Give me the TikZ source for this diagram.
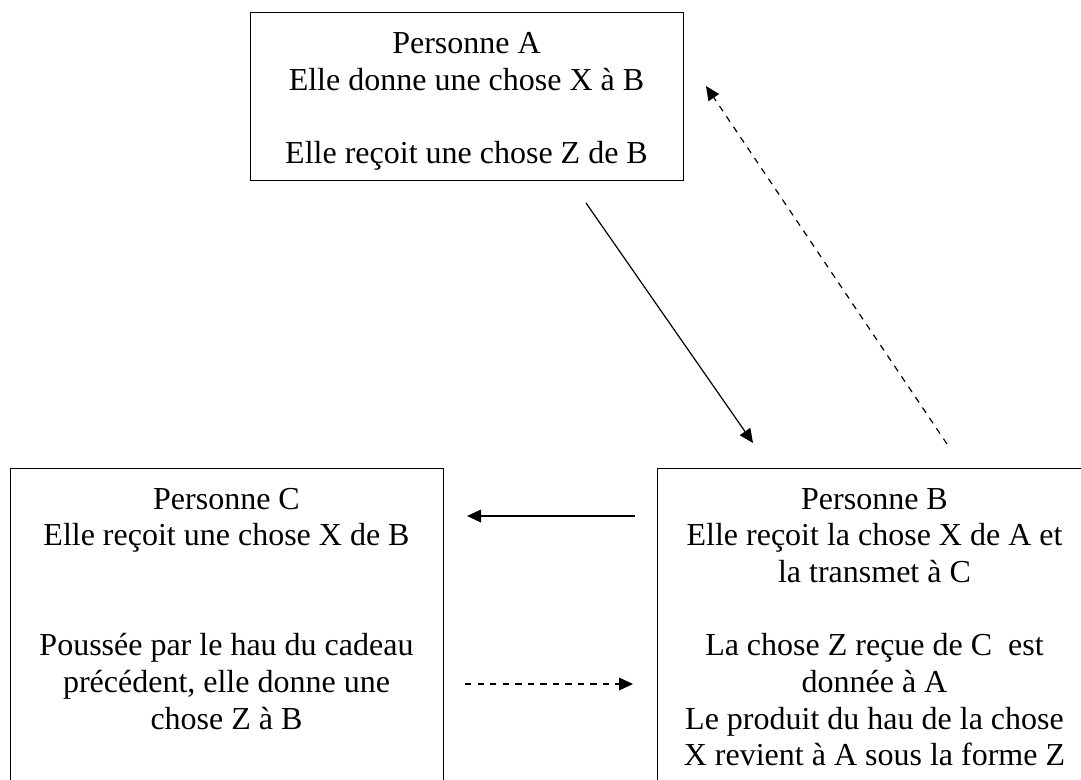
\documentclass[tikz,border=0pt]{standalone}
\usepackage{fontspec}
\setmainfont{Liberation Serif}
\usetikzlibrary{arrows.meta}
\begin{document}
\begin{tikzpicture}[x=0.75pt,y=-0.75pt,
  box/.style={draw, line width=1pt, rectangle, inner sep=0pt, anchor=north west},
  txt/.style={anchor=north, inner sep=0pt, align=center, font={\fontsize{24}{27.5}\selectfont}},
  conn/.style={line width=0.9pt, -{Triangle[length=10.5pt,width=9.5pt]}},
  dconn/.style={conn, dash pattern=on 4.8pt off 4.6pt}]
\useasboundingbox (0,0) rectangle (1081,779);
\clip (0,0) rectangle (1081,779);
% boxes
\node[box, minimum width=324.75pt, minimum height=126pt] (A) at (250,12) {};
\node[box, minimum width=324.75pt, minimum height=255pt] (C) at (10,468) {};
\node[box, minimum width=326.25pt, minimum height=255pt] (B) at (657,468) {};
% texts
\node[txt] (tA) at (466.5,27.8) {\strut Personne A\\Elle donne une chose X à B\\~\\Elle reçoit une chose Z de B};
\node[txt] (tC) at (226.5,483.3) {\strut Personne C\\Elle reçoit une chose X de B\\~\\~\\Poussée par le hau du cadeau\\précédent, elle donne une\\chose Z à B};
\node[txt] (tB) at (874.5,483.3) {\strut Personne B\\Elle reçoit la chose X de A et\\la transmet à C\\~\\La chose Z reçue de C\ \ est\\donnée à A\\Le produit du hau de la chose\\X revient à A sous la forme Z};
% connector ends
\coordinate (p1s) at (586,203);
\coordinate (p1e) at (753,443);
\coordinate (p2s) at (947,444);
\coordinate (p2e) at (706,86);
\coordinate (p3s) at (635,516);
\coordinate (p3e) at (467,516);
\coordinate (p4s) at (465,684);
\coordinate (p4e) at (633,684);
\draw[conn] (p1s) -- (p1e);
\draw[dconn] (p2s) -- (p2e);
\draw[conn] (p3s) -- (p3e);
\draw[dconn] (p4s) -- (p4e);
\end{tikzpicture}
\end{document}
